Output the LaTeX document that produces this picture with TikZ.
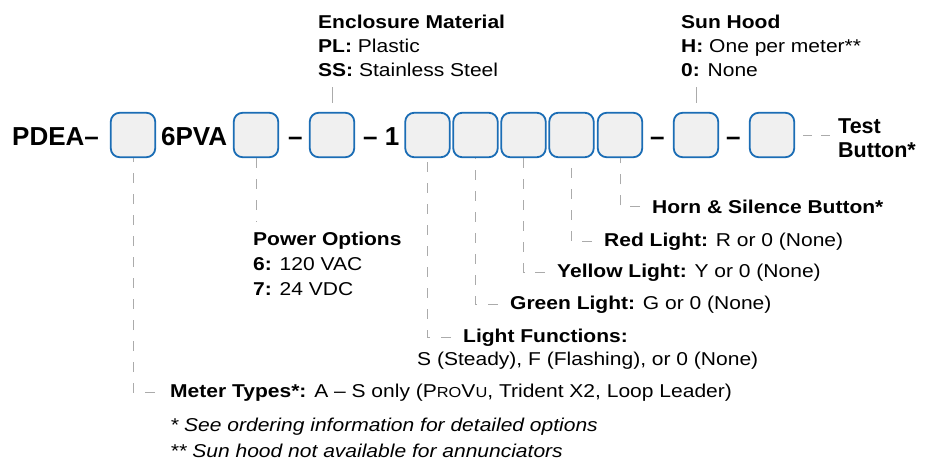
\documentclass[tikz,border=0pt]{standalone}
\usepackage{fontspec}
\setmainfont{Liberation Sans}
\newfontfamily\widefont[FakeStretch=1.13, Ligatures=TeX]{Liberation Sans}
\usepackage{tikz}
\usetikzlibrary{positioning}
\definecolor{boxblue}{HTML}{1B6DB5}
\definecolor{boxfill}{HTML}{F0F0F0}
\definecolor{guidegray}{HTML}{ABABAB}
\newcommand\minicaps[1]{{\fontsize{14.5}{14.5}\selectfont #1}}
\tikzstyle{cbox} = [draw=boxblue, fill=boxfill, line width=1.8pt, rounded corners=9pt, minimum width=44.5pt, minimum height=44.5pt, inner sep=0pt]
\tikzstyle{code} = [anchor=base west, inner sep=0pt, font=\fontsize{26}{26}\selectfont\bfseries]
\tikzstyle{txt} = [anchor=base west, inner sep=0pt, font=\widefont\fontsize{18.6}{22}\selectfont]
\tikzstyle{guide} = [draw=guidegray, line width=0.9pt, dash pattern=on 10pt off 11pt]

\begin{document}
\begin{tikzpicture}[x=1pt, y=-1pt]
			\useasboundingbox (0,0) rectangle (932,466);

			% part number
			\node [code] (pdea) at (12, 145) {PDEA--};
			\node [cbox] (b1) at (133, 135) {};
			\node [code] (pva) at (161, 145) {6PVA};
			\node [cbox] (b2) at (256, 135) {};
			\node [code] (d1) at (288, 145) {--};
			\node [cbox] (b3) at (332, 135) {};
			\node [code] (d2) at (363, 145) {-- 1};
			\node [cbox] (b4) at (427.5, 135) {};
			\node [cbox] (b5) at (475.5, 135) {};
			\node [cbox] (b6) at (523.5, 135) {};
			\node [cbox] (b7) at (571.5, 135) {};
			\node [cbox] (b8) at (620, 135) {};
			\node [code] (d3) at (650, 145) {--};
			\node [cbox] (b9) at (696, 135) {};
			\node [code] (d4) at (726, 145) {--};
			\node [cbox] (b10) at (772, 135) {};
			\node [code, font=\fontsize{21.5}{21.5}\selectfont\bfseries] (tb1) at (838, 133) {Test};
			\node [code, font=\fontsize{21.5}{21.5}\selectfont\bfseries] (tb2) at (838, 157) {Button*};

			% labels above
			\node [txt] (em1) at (318, 28) {\textbf{Enclosure Material}};
			\node [txt] (em2) at (318, 52) {\textbf{PL:} Plastic};
			\node [txt] (em3) at (318, 76) {\textbf{SS:} Stainless Steel};
			\node [txt] (sh1) at (681, 28) {\textbf{Sun Hood}};
			\node [txt] (sh2) at (681, 52) {\textbf{H:} One per meter**};
			\node [txt] (sh3) at (681, 76) {\textbf{0:} None};

			% labels below
			\node [txt] (hs) at (652, 213) {\textbf{Horn \& Silence Button*}};
			\node [txt] (rl) at (604, 246) {\textbf{Red Light:} R or 0 (None)};
			\node [txt] (yl) at (557, 277) {\textbf{Yellow Light:} Y or 0 (None)};
			\node [txt] (gl) at (510, 309) {\textbf{Green Light:} G or 0 (None)};
			\node [txt] (lf1) at (463, 342) {\textbf{Light Functions:}};
			\node [txt] (lf2) at (417, 365) {S (Steady), F (Flashing), or 0 (None)};
			\node [txt] (po1) at (253, 245) {\textbf{Power Options}};
			\node [txt] (po2) at (253, 270) {\textbf{6:} 120 VAC};
			\node [txt] (po3) at (253, 295) {\textbf{7:} 24 VDC};
			\node [txt] (mt) at (170, 397) {\textbf{Meter Types*:} A -- S only (P\minicaps{RO}V\minicaps{U}, Trident X2, Loop Leader)};
			\node [txt, font=\widefont\fontsize{18.6}{22}\selectfont\itshape] (fn1) at (170, 431) {* See ordering information for detailed options};
			\node [txt, font=\widefont\fontsize{18.6}{22}\selectfont\itshape] (fn2) at (170, 457) {** Sun hood not available for annunciators};

			% guide lines
			\path [guide, dash pattern=on 16pt off 30pt] ([yshift=-11pt]b3.north |- em3.south) -- (b3.north);
			\path [guide, dash pattern=on 16pt off 30pt] ([yshift=-11pt]b9.north |- sh3.south) -- (b9.north);
			\path [guide, dash pattern=on 9pt off 9pt] ([xshift=8pt]b10.east) -- ([xshift=-8pt]b10.east -| tb1.west);
			\path [guide] (b2.south) -- ([yshift=10pt]b2.south |- po1.north);
			\path [guide] ([xshift=-15pt]mt.west) -| (b1.south);
			\path [guide] ([xshift=-12pt]lf1.west) -| (b4.south);
			\path [guide] ([xshift=-12pt]gl.west) -| (b5.south);
			\path [guide] ([xshift=-12pt]yl.west) -| (b6.south);
			\path [guide] ([xshift=-12pt]rl.west) -| (b7.south);
			\path [guide] ([xshift=-12pt]hs.west) -| (b8.south);
		\end{tikzpicture}
\end{document}
